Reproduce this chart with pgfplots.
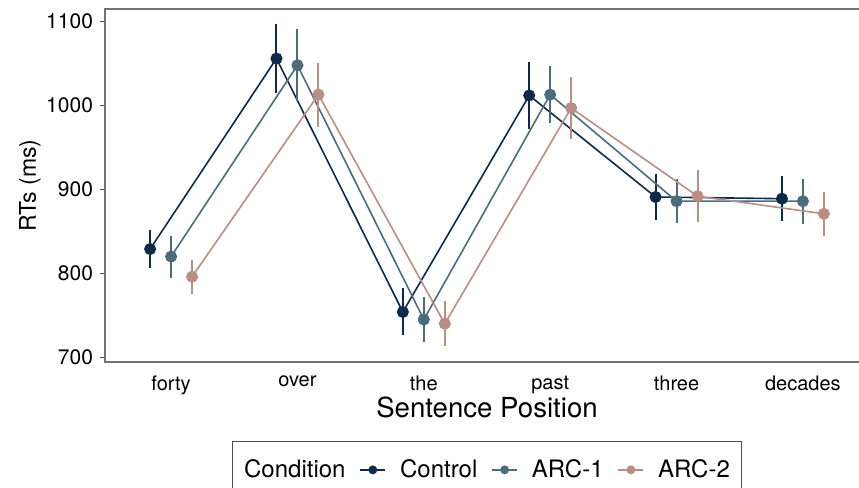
\documentclass[border=0pt]{standalone}
\usepackage{fontspec}
\setmainfont{TeX Gyre Heros}
\usepackage{pgfplots}
\usepackage{pgfplotstable}
\pgfplotsset{compat=1.18}
\usetikzlibrary{calc}

\definecolor{ctrl}{HTML}{0D2A4B}
\definecolor{arcone}{HTML}{4B6C7A}
\definecolor{arctwo}{HTML}{BA8E85}

% x = word position, y = mean RT, e = error
\pgfplotstableread{
x y e
0 829 23
1 1056 41
2 754 28
3 1012 40
4 891 27
5 889 27
}\control
\pgfplotstableread{
x y e
0 820 25
1 1048 43
2 745 27
3 1013 34
4 886 26
5 886 27
}\arcA
\pgfplotstableread{
x y e
0 796 20
1 1013 38
2 740 27
3 997 37
4 892 31
5 871 26
}\arcB

\begin{document}
\begin{tikzpicture}
\begin{axis}[
  name=ax,
  width=382pt, height=176.5pt, scale only axis,
  xmin=-0.523, xmax=5.523,
  ymin=694.4, ymax=1115,
  xtick={0,...,5},
  xticklabels={forty, over, the, past, three, decades},
  ytick={700,800,900,1000,1100},
  /pgf/number format/assume math mode=true,
  /pgf/number format/1000 sep={},
  tick align=outside,
  major tick length=2.5pt,
  xtick style={draw=none},
  ytick style={black!70, line width=0.5pt},
  axis line style={black!55, line width=0.6pt},
  x tick label style={font=\fontsize{10}{12}\selectfont, yshift=-1pt},
  y tick label style={font=\fontsize{10.5}{12}\selectfont},
  xlabel={Sentence Position},
  ylabel={RTs (ms)},
  xlabel style={font=\fontsize{13.8}{16}\selectfont, at={(axis description cs:0.5,-0.13)}, anchor=center},
  ylabel style={font=\fontsize{11.5}{14}\selectfont, at={(axis description cs:-0.0982,0.5)}, anchor=center, rotate=0},
  legend columns=-1,
  legend style={
    at={(axis description cs:0.5,-0.2235)}, anchor=north,
    draw=black!70, line width=0.5pt,
    font=\fontsize{12}{14}\selectfont,
    inner xsep=4pt, inner ysep=7pt,
    /tikz/every even column/.append style={column sep=5pt},
    /tikz/column 3/.style={column sep=5pt},
    /tikz/column 5/.style={column sep=5pt},
    /tikz/column 7/.style={column sep=5pt},
  },
  legend image code/.code={
    \draw[line width=0.8pt] (0pt,0pt) -- (12.5pt,0pt);
    \fill (6.25pt,0pt) circle (1.8pt);
  },
  error bars/y dir=both,
  error bars/y explicit,
  error bars/error mark=none,
  error bars/error bar style={line width=1pt},
]
\addlegendimage{empty legend}
\addlegendentry{Condition}
\addplot[ctrl, line width=0.8pt, mark=*, mark size=2.6pt]
  table[x expr=\thisrow{x}-0.166, y=y, y error=e] {\control};
\addlegendentry{Control}
\addplot[arcone, line width=0.8pt, mark=*, mark size=2.6pt]
  table[x=x, y=y, y error=e] {\arcA};
\addlegendentry{ARC-1}
\addplot[arctwo, line width=0.8pt, mark=*, mark size=2.6pt]
  table[x expr=\thisrow{x}+0.166, y=y, y error=e] {\arcB};
\addlegendentry{ARC-2}
\end{axis}
\pgfresetboundingbox
\path[use as bounding box] ($(ax.south west)+(-52.5pt,-62.5pt)$) rectangle ($(ax.north east)+(-5pt,4.5pt)$);
\end{tikzpicture}
\end{document}
